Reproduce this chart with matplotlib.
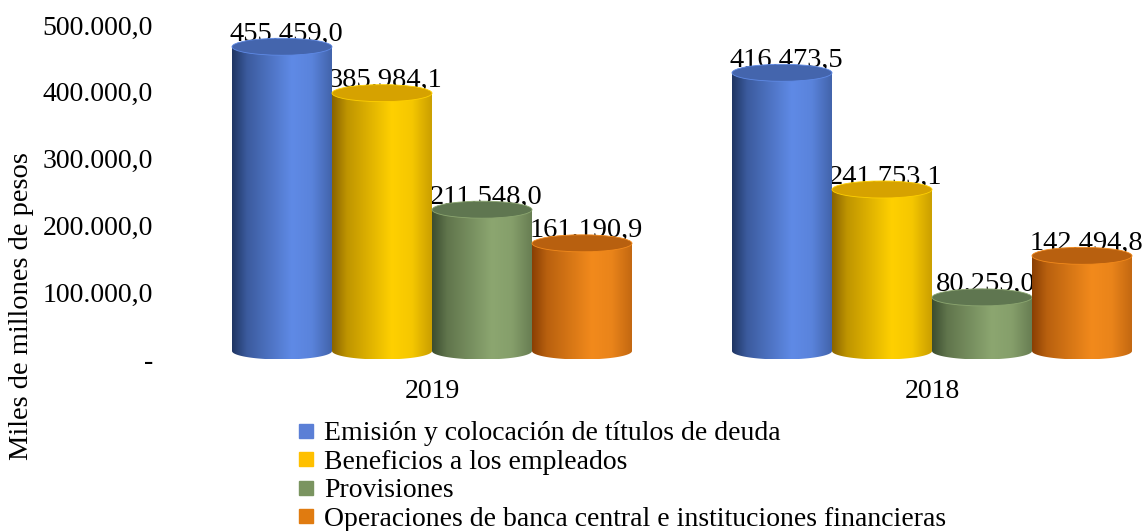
import numpy as np
import matplotlib

matplotlib.use("Agg")
import matplotlib.pyplot as plt
from matplotlib.colors import to_rgb
from matplotlib.lines import Line2D
from matplotlib.patches import Ellipse, Polygon
from matplotlib.transforms import ScaledTranslation

years = ["2019", "2018"]
series_names = [
    "Emisión y colocación de títulos de deuda",
    "Beneficios a los empleados",
    "Provisiones",
    "Operaciones de banca central e instituciones financieras",
]
emision = [455459.0, 416473.5]
beneficios = [385984.1, 241753.1]
provisiones = [211548.0, 80259.0]
operaciones = [161190.9, 142494.8]
yticks = [0, 100000, 200000, 300000, 400000, 500000]

# (dark side, light side, top cap, legend swatch)
PALETTE = [
    ("#1f3563", "#5f8ae6", "#4465ad", "#5b7fd6"),
    ("#8a6400", "#ffd000", "#d6a200", "#ffc000"),
    ("#3c4d2f", "#8ca670", "#5f7650", "#7a9460"),
    ("#8a3f04", "#f28a1c", "#b8600f", "#e07b10"),
]

plt.rcParams["font.family"] = ["Liberation Serif", "DejaVu Serif"]
FS = 20

W, H = 1145, 531
fig = plt.figure(figsize=(W / 100, H / 100), dpi=100)

# pixel layout
ax_left, ax_bottom_px, zero_px, px_per_100k = 182, 365, 351, 66.8
ax = fig.add_axes([ax_left / W, (H - ax_bottom_px) / H, (W - ax_left) / W, ax_bottom_px / H])
ymax = zero_px / px_per_100k * 1e5
ymin = -(ax_bottom_px - zero_px) / px_per_100k * 1e5
cap_b = 8.5 / px_per_100k * 1e5  # half height of the ellipse, data units
half_w = 0.5


def fmt(v):
    s = f"{v:,.1f}"
    return s.replace(",", "X").replace(".", ",").replace("X", ".")


def shade(dark, light, n=200):
    t = np.linspace(0, 1, n)
    k = np.interp(t, [0, 0.15, 0.6, 0.8, 1.0], [0.0, 0.45, 1.0, 0.92, 0.55])
    d, l = np.array(to_rgb(dark)), np.array(to_rgb(light))
    row = d[None, :] * (1 - k[:, None]) + l[None, :] * k[:, None]
    return row[None, :, :]


def cylinder(xc, value, colors, z):
    dark, light, top, _ = colors
    theta = np.linspace(0, np.pi, 60)
    bx = xc + half_w * np.cos(theta)
    by = -cap_b * np.sin(theta)
    pts = [(xc - half_w, value), (xc + half_w, value)] + list(zip(bx, by))
    body = Polygon(pts, closed=True, facecolor="none", edgecolor="none", zorder=z)
    ax.add_patch(body)
    img = ax.imshow(shade(dark, light), extent=[xc - half_w, xc + half_w, -cap_b, value],
                    aspect="auto", zorder=z, interpolation="bilinear")
    img.set_clip_path(body)
    ax.add_patch(Ellipse((xc, value), 2 * half_w, 2 * cap_b, facecolor=top,
                         edgecolor=light, linewidth=0.6, zorder=z + 0.1))


all_series = [emision, beneficios, provisiones, operaciones]
group_x = np.arange(len(years)) * 5.0
offsets = [-1.5, -0.5, 0.5, 1.5]

for gi, gx in enumerate(group_x):
    for si, vals in enumerate(all_series):
        xc = gx + offsets[si]
        v = vals[gi]
        z = 3 + si * 0.5
        ax.text(xc + 0.04, v + cap_b - 2.5 / px_per_100k * 1e5, fmt(v), ha="center",
                va="baseline", fontsize=FS + 0.5, zorder=2 + si * 0.5)
        cylinder(xc, v, PALETTE[si], z)

ax.set_xlim(-2.5, -2.5 + (W - ax_left) / 100)
ax.set_ylim(ymin, ymax)
ax.set_xticks(group_x)
ax.set_xticklabels(years, fontsize=FS)
ax.set_yticks(yticks)
ax.set_yticklabels(["-" if t == 0 else fmt(t) for t in yticks], fontsize=FS)
ax.tick_params(axis="both", length=0)
ax.tick_params(axis="x", pad=10)
ax.tick_params(axis="y", pad=21)
shift = ScaledTranslation(0, -0.08, fig.dpi_scale_trans)
for lab in ax.get_yticklabels():
    lab.set_transform(lab.get_transform() + shift)
for spine in ax.spines.values():
    spine.set_visible(False)
ax.set_facecolor("none")

fig.text(22 / W, 1 - 306 / H, "Miles de millones de pesos", rotation=90,
         ha="center", va="center", fontsize=FS + 0.5)

handles = [Line2D([], [], marker="s", linestyle="none", markersize=10.5,
                  markerfacecolor=c[3], markeredgecolor=c[3]) for c in PALETTE]
fig.legend(handles, series_names, loc="upper left", bbox_to_anchor=(298 / W, 1 - 421 / H),
           frameon=False, fontsize=FS, handlelength=0.6, handletextpad=0.35,
           labelspacing=0.11, borderpad=0, borderaxespad=0)

fig.savefig("out.png", dpi=100)
